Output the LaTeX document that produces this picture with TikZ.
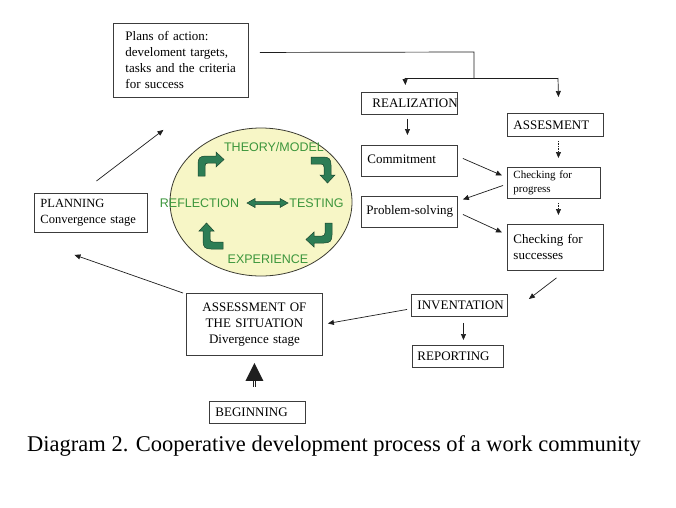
\documentclass[tikz,border=0pt]{standalone}
\usepackage{fontspec}
\setmainfont{Liberation Serif}
\newfontfamily\arialf{Liberation Sans}
\usetikzlibrary{shapes.geometric,arrows.meta,calc}
\definecolor{boxgray}{RGB}{60,60,60}
\definecolor{linek}{RGB}{30,30,30}
\definecolor{ellfill}{RGB}{247,246,198}
\definecolor{ellline}{RGB}{60,60,50}
\definecolor{gtext}{RGB}{60,150,60}
\definecolor{gfill}{RGB}{45,125,85}
\definecolor{gline}{RGB}{25,70,45}
\newcommand{\fsz}[2]{\fontsize{#1}{#2}\selectfont}
\tikzset{
  boxn/.style={draw=boxgray, line width=0.9pt, rectangle, inner ysep=0pt, align=left, anchor=north west, font=\fsz{13}{16}},
  arr/.style={draw=linek, line width=0.7pt, -{Triangle[length=6pt,width=5pt]}},
  plainln/.style={draw=linek, line width=0.7pt},
  dotarr/.style={arr, densely dotted},
  etext/.style={font=\arialf\fsz{12.5}{14}, text=gtext, inner sep=0pt},
  garr/.style={fill=gfill, draw=gline, line width=0.5pt},
  garrow/.pic={
    \filldraw[garr] (-13,12) -- (-13,0) .. controls (-13,-6) and (-11,-8) .. (-5,-8) -- (5,-8) -- (5,-12) -- (13,-4.5) -- (5,3) -- (5,-1) -- (-3,-1) .. controls (-5,-1) and (-6,0) .. (-6,2) -- (-6,12) -- cycle;
  }
}
\begin{document}
\begin{tikzpicture}[x=1pt,y=-1pt]
\useasboundingbox[fill=white] (0,0) rectangle (676,507);

% boxes
\node[boxn, inner xsep=12pt, text width=111pt, minimum height=74pt] (plans) at (113,23)
  {Plans of action:\\develoment targets,\\tasks and the criteria\\for success};
\node[boxn, inner xsep=11pt, text width=74pt, minimum height=22pt] (real) at (361,92) {REALIZATION};
\node[boxn, inner xsep=6pt, text width=84pt, minimum height=23pt] (ases) at (507,113) {\raisebox{-4pt}{ASSESMENT}};
\node[boxn, inner xsep=6pt, text width=84pt, minimum height=31pt] (commit) at (361,145) {\raisebox{3pt}{Commitment}};
\node[boxn, inner xsep=6pt, text width=81pt, minimum height=31pt, font=\fsz{11}{14}] (prog) at (507,167) {Checking for\\progress};
\node[boxn, inner xsep=5pt, text width=86pt, minimum height=31pt] (prob) at (361,196) {\raisebox{3pt}{Problem-solving}};
\node[boxn, inner xsep=6pt, text width=84pt, minimum height=46pt] (succ) at (507,224) {Checking for\\successes};
\node[boxn, inner xsep=6pt, text width=101pt, minimum height=39pt, font=\fsz{12.5}{16}] (plan) at (34,193) {PLANNING\\Convergence stage};
\node[boxn, inner xsep=4pt, text width=128pt, minimum height=62pt, align=center] (assess) at (186,293)
  {ASSESSMENT OF\\THE SITUATION\\Divergence stage};
\node[boxn, inner xsep=6pt, text width=84pt, minimum height=22pt] (invent) at (411,294) {INVENTATION};
\node[boxn, inner xsep=5pt, text width=81pt, minimum height=22pt] (report) at (412,345) {REPORTING};
\node[boxn, inner xsep=6pt, text width=84pt, minimum height=22pt] (begin) at (209,401) {BEGINNING};

% cycle ellipse
\node[ellipse, draw=ellline, fill=ellfill, line width=0.8pt, minimum width=182pt, minimum height=148pt, inner sep=0pt] (cyc) at (261,202) {};
\node[etext] (theory) at (274,147) {THEORY/MODEL};
\node[etext] (testing) at (316.5,203) {TESTING};
\node[etext] (reflect) at (199.5,203) {REFLECTION};
\node[etext] (exper) at (268,259) {EXPERIENCE};
\pic at (211,164) {garrow};
\pic[rotate=-90] at (323,170) {garrow};
\pic[rotate=180] at (319,235) {garrow};
\pic[rotate=90] at (211,236) {garrow};
\filldraw[garr] (247,203) -- (255,198.5) -- (255,201.5) -- (280,201.5) -- (280,198.5) -- (288,203) -- (280,207.5) -- (280,204.5) -- (255,204.5) -- (255,207.5) -- cycle;

% top branch
\coordinate (p0) at ($(plans.east)+(11,-8)$);
\coordinate (p1) at (474,52);
\coordinate (p2) at (474,78);
\coordinate (pl) at (405,78);
\coordinate (pr) at (558,78);
\draw[plainln] (p0) -- (p1) -- (p2);
\draw[plainln] (pl) -- (pr);
\draw[arr] (pl) -- ($(real.north)+(-4,-7)$);
\draw[arr] (pr) -- ($(ases.north)+(3,-16)$);

% connectors
\draw[arr] ($(real.south)+(-2,4)$) -- ($(commit.north)+(-2,-10)$);
\draw[dotarr] ($(ases.south)+(3,4)$) -- ($(prog.north)+(4.5,-9)$);
\draw[dotarr] ($(prog.south)+(4.5,4)$) -- ($(succ.north)+(3,-9)$);
\draw[arr] ($(commit.east)+(5,-2.5)$) -- ($(prog.west)+(-5,-7.5)$);
\draw[arr] ($(prog.west)+(-4,2.5)$) -- ($(prob.east)+(5,-12.5)$);
\draw[arr] ($(prob.east)+(5,2.5)$) -- ($(succ.west)+(-5,-15)$);
\draw[arr] ($(succ.south)+(1,7)$) -- ($(invent.north east)+(21,5)$);
\draw[arr] ($(invent.south)+(4,6)$) -- ($(report.north)+(5.5,-5)$);
\draw[arr] ($(invent.west)+(-4,4)$) -- ($(assess.east)+(5,-1)$);
\draw[arr] ($(assess.north west)+(-3,0)$) -- ($(plan.south)+(-16.5,22)$);
\draw[arr] ($(plan.north)+(5.5,-12)$) -- ($(plans.south)+(-17.5,32)$);

% thick arrow from beginning
\draw[linek, line width=0.6pt, double distance=1.6pt] ($(begin.north)+(-3,-14)$) -- ($(assess.south)+(0,24)$);
\fill[linek] ($(assess.south)+(-9,25)$) -- ($(assess.south)+(0,7)$) -- ($(assess.south)+(9,25)$) -- cycle;

% caption
\node[anchor=base, inner sep=0pt, font=\fsz{22.5}{26}] (caption) at (334,451) {Diagram 2. Cooperative development process of a work community};
\end{tikzpicture}
\end{document}
